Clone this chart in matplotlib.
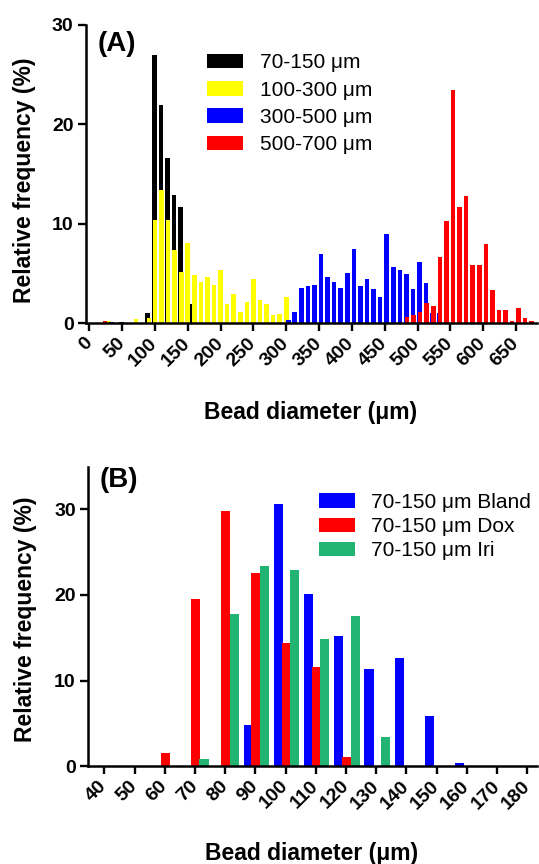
import numpy as np
from matplotlib import pyplot as plt

plt.rcParams['font.family'] = ['Liberation Sans', 'DejaVu Sans']

# Panel A: bead size histograms (bin centre in um, relative frequency in %)
black_x = [49, 89, 99, 109, 119, 129, 139, 156]
black_y = [0.15, 1.0, 27.0, 22.0, 16.6, 12.9, 11.7, 1.9]

yellow_x = [29, 71, 91, 100, 110, 120, 130, 140, 150, 160, 170, 180, 190,
            200, 210, 220, 230, 240, 250, 260, 270, 280, 290, 300]
yellow_y = [0.2, 0.4, 0.5, 10.4, 13.4, 10.4, 7.4, 5.2, 8.1, 4.9, 4.2, 4.7, 3.9,
            5.4, 1.9, 2.9, 1.1, 2.1, 4.5, 2.35, 1.9, 0.85, 0.9, 2.6]

blue_x = [34, 303, 313, 323, 333, 343, 353, 363, 373, 383, 393, 403, 413,
          423, 433, 443, 453, 463, 473, 483, 493, 503, 513, 523, 533]
blue_y = [0.15, 0.3, 1.1, 3.6, 3.75, 3.9, 6.95, 4.7, 4.2, 3.6, 5.1, 7.5, 3.75,
          4.5, 3.5, 2.6, 9.0, 5.7, 5.4, 5.0, 3.4, 6.2, 4.1, 1.0, 1.0]

red_x = [24, 484, 494, 504, 514, 524, 534, 544, 554, 564, 574, 584, 594,
         604, 614, 624, 634, 644, 654, 664, 674]
red_y = [0.2, 0.67, 0.84, 1.17, 2.07, 1.7, 6.7, 10.3, 23.5, 11.7, 12.8, 5.9, 5.9,
         8.0, 3.3, 1.35, 1.35, 0.2, 1.5, 0.5, 0.2]

labels_a = ['70-150 μm', '100-300 μm', '300-500 μm', '500-700 μm']
colors_a = ['black', '#ffff00', '#0000ff', '#ff0000']

# Panel B: 70-150 um beads, bland vs drug loaded
bins_b = [60, 70, 80, 90, 100, 110, 120, 130, 140, 150, 160]
bland = [0, 0, 0, 4.8, 30.6, 20.1, 15.2, 11.3, 12.6, 5.9, 0.3]
dox = [1.5, 19.5, 29.8, 22.6, 14.4, 11.6, 1.1, 0, 0, 0, 0]
iri = [0, 0.8, 17.8, 23.4, 22.9, 14.8, 17.6, 3.4, 0, 0, 0]
labels_b = ['70-150 μm Bland', '70-150 μm Dox', '70-150 μm Iri']
colors_b = ['#0000ff', '#ff0000', '#22b473']


def style_axes(ax):
    for s in ['top', 'right']:
        ax.spines[s].set_visible(False)
    for s in ['left', 'bottom']:
        ax.spines[s].set_linewidth(1.8)
    ax.tick_params(width=1.7, length=5.5, labelsize=14, direction='out')
    for lab in ax.get_yticklabels() + ax.get_xticklabels():
        lab.set_fontweight('bold')
    for lab in ax.get_xticklabels():
        lab.set_rotation(45)
        lab.set_ha('right')
        lab.set_va('center')
        lab.set_rotation_mode('anchor')


fig = plt.figure(figsize=(5.39, 8.64), dpi=100)

# ---- (A)
axA = fig.add_axes([0.1596, 0.6258, 0.8367, 0.3453])
series_a = [(black_x, black_y), (yellow_x, yellow_y), (blue_x, blue_y), (red_x, red_y)]
for (xs, ys), c, lab in zip(series_a, colors_a, labels_a):
    axA.bar(xs, ys, width=7, color=c, label=lab, linewidth=0)
axA.set_xlim(-5, 682)
axA.set_ylim(0, 30)
axA.set_xticks(np.arange(0, 651, 50))
axA.set_yticks([0, 10, 20, 30])
style_axes(axA)
axA.xaxis.set_tick_params(pad=7)
axA.set_xlabel('Bead diameter (μm)', fontsize=16.5, fontweight='bold')
axA.xaxis.set_label_coords(0.497, -0.26)
axA.set_ylabel('Relative frequency (%)', fontsize=16.5, fontweight='bold')
axA.yaxis.set_label_coords(-0.11, 0.48)
axA.text(0.025, 0.935, '(A)', transform=axA.transAxes, fontsize=20,
         fontweight='bold', va='center', ha='left')
axA.legend(loc='upper left', bbox_to_anchor=(0.268, 0.905), frameon=False,
           fontsize=15, handlelength=1.75, handleheight=0.7, handletextpad=0.8,
           labelspacing=0.4, borderpad=0, borderaxespad=0)

# ---- (B)
axB = fig.add_axes([0.1638, 0.1134, 0.8325, 0.3464])
bins = np.array(bins_b)
for vals, off, c, lab in zip([bland, dox, iri], [-2.4, 0.2, 3.0], colors_b, labels_b):
    axB.bar(bins + off, vals, width=3, color=c, label=lab, linewidth=0)
axB.set_xlim(34.7, 183.2)
axB.set_ylim(0, 35)
axB.set_xticks(np.arange(40, 181, 10))
axB.set_yticks([0, 10, 20, 30])
style_axes(axB)
axB.xaxis.set_tick_params(pad=7)
axB.set_xlabel('Bead diameter (μm)', fontsize=16.5, fontweight='bold')
axB.xaxis.set_label_coords(0.497, -0.255)
axB.set_ylabel('Relative frequency (%)', fontsize=16.5, fontweight='bold')
axB.yaxis.set_label_coords(-0.115, 0.49)
axB.text(0.025, 0.955, '(B)', transform=axB.transAxes, fontsize=20,
         fontweight='bold', va='center', ha='left')
axB.legend(loc='upper left', bbox_to_anchor=(0.515, 0.912), frameon=False,
           fontsize=15, handlelength=1.7, handleheight=0.7, handletextpad=0.8,
           labelspacing=0.25, borderpad=0, borderaxespad=0)

plt.savefig('out.png', dpi=100)
